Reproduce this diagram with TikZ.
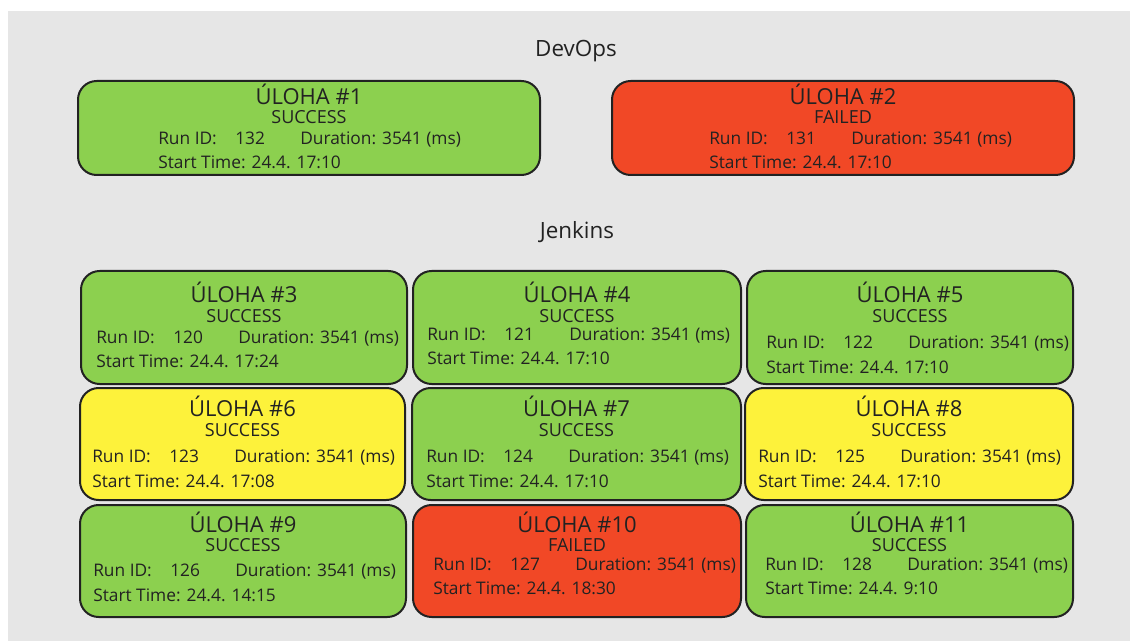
\documentclass[tikz,border=0pt]{standalone}
\usepackage{fontspec}
\setmainfont{Open Sans}
\definecolor{okgreen}{HTML}{8CD04F}
\definecolor{badred}{HTML}{F14826}
\definecolor{warnyellow}{HTML}{FDF23B}
\definecolor{panelgray}{HTML}{E6E6E6}
\definecolor{ink}{HTML}{222222}
\begin{document}
\begin{tikzpicture}[x=0.75pt, y=-0.75pt,
    job/.style={draw=ink, line width=1.5pt, rounded corners=14pt, inner sep=0pt},
    jobtitle/.style={text=ink, font=\fontsize{16.5}{19}\selectfont, anchor=base, inner sep=0pt},
    jobstate/.style={text=ink, font=\fontsize{13.5}{16}\selectfont, anchor=base, inner sep=0pt},
    info/.style={text=ink, font=\fontsize{13}{15}\selectfont, anchor=base west, inner sep=0pt},
    heading/.style={text=ink, font=\fontsize{16.8}{19}\selectfont, anchor=base, inner sep=0pt}]
  \useasboundingbox (0,0) rectangle (1130,641);
  \fill[white] (0,0) rectangle (1130,641);
  \fill[panelgray] (8,11) rectangle (1130,641);

  % skupiny
  \node[heading] (devops) at (576,57) {DevOps};
  \node[heading] (jenkins) at (577,239) {Jenkins};

  % ulohy: cislo / ramecek / barva / stav / run id / cas / radky textu
  \foreach \k/\xa/\ya/\xb/\yb/\fillc/\state/\rid/\stime/\lx/\ty/\sy/\ry/\by in {
      1/78/81/540/175/okgreen/SUCCESS/132/17:10/158/105/124/145/169,
      2/612/81/1074/175/badred/FAILED/131/17:10/709/105/124/145/169,
      3/81/271/407/384/okgreen/SUCCESS/120/17:24/96/302/322/343/367,
      4/413/271/741/384/okgreen/SUCCESS/121/17:10/427/302/322/340/364,
      5/747/271/1073/384/okgreen/SUCCESS/122/17:10/766/302/322/348/373,
      6/80/388/405/500/warnyellow/SUCCESS/123/17:08/92/416/436/462/487,
      7/412/388/741/500/okgreen/SUCCESS/124/17:10/426/416/436/462/487,
      8/745/388/1073/500/warnyellow/SUCCESS/125/17:10/758/416/436/462/487,
      9/80/505/406/617/okgreen/SUCCESS/126/14:15/93/532/551/576/601,
      10/413/505/741/617/badred/FAILED/127/18:30/433/532/551/570/594,
      11/746/505/1073/617/okgreen/SUCCESS/128/9:10/765/532/551/570/594}{
    \node[job, fill=\fillc, minimum width={(\xb-\xa)*0.75pt}, minimum height={(\yb-\ya)*0.75pt}]
      (job\k) at ({(\xa+\xb)/2},{(\ya+\yb)/2}) {};
    \node[jobtitle] (job\k-title) at ({(\xa+\xb)/2},\ty) {ÚLOHA \#\k};
    \node[jobstate] (job\k-state) at ({(\xa+\xb)/2},\sy) {\state};
    \node[info] (job\k-run) at (\lx,\ry) {Run ID:};
    \node[info] (job\k-id) at (\lx+77,\ry) {\rid};
    \node[info] (job\k-dur) at (\lx+142,\ry) {Duration: 3541 (ms)};
    \node[info] (job\k-start) at (\lx,\by) {Start Time: 24.4. \stime};
  }
\end{tikzpicture}
\end{document}
